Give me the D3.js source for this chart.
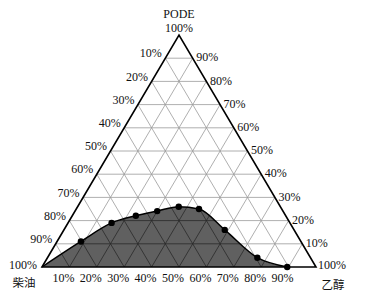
<!DOCTYPE html>
<meta charset="utf-8">
<script src="https://d3js.org/d3.v7.min.js"></script>
<style>
body { margin: 0; background: #fff; }
text { font-family: "Liberation Serif", "Times New Roman", serif; font-size: 12px; fill: #111; }
.cjk { font-family: "Noto Sans CJK SC", sans-serif; font-size: 11.5px; }
</style>
<body></body>
<script>

// ternary data, in percent (diesel = 100 - ethanol - pode)
var ethanol = [0, 8.7, 15.9, 23.2, 30.0, 36.9, 44.8, 58.7, 76.6, 89.5];
var pode    = [0, 11.0, 19.0, 22.1, 24.1, 26.0, 25.0, 16.0, 4.0, 0];
var ticks   = [10, 20, 30, 40, 50, 60, 70, 80, 90];

var width = 367, height = 300;

var svg = d3.select("body").append("svg")
  .attr("width", width)
  .attr("height", height);

// x runs along the base (ethanol + pode/2), y is the pode height
var xScale = d3.scaleLinear().domain([0, 100]).range([42, 316]);
var yScale = d3.scaleLinear().domain([0, 100]).range([267, 35]);

function px(e, p) { return xScale(e + p / 2); }
function py(e, p) { return yScale(p); }

// grid segments for the three families
var grid = [];
ticks.forEach(function(k) {
  grid.push([[0, k], [100 - k, k]]);          // constant PODE
  grid.push([[k, 0], [k, 100 - k]]);          // constant ethanol
  grid.push([[100 - k, 0], [0, 100 - k]]);    // constant diesel
});

function drawGrid(g, color) {
  g.selectAll("line")
    .data(grid)
    .enter().append("line")
    .attr("x1", function(d) { return px(d[0][0], d[0][1]); })
    .attr("y1", function(d) { return py(d[0][0], d[0][1]); })
    .attr("x2", function(d) { return px(d[1][0], d[1][1]); })
    .attr("y2", function(d) { return py(d[1][0], d[1][1]); })
    .style("stroke", color)
    .style("stroke-width", 0.8);
}

drawGrid(svg.append("g"), "#9a9a9a");

// the region under the curve
var pts = ethanol.map(function(e, i) { return [px(e, pode[i]), py(e, pode[i])]; });

var line = d3.line().curve(d3.curveMonotoneX);
var areaPath = line(pts) + "Z";

svg.append("clipPath").attr("id", "regionClip")
  .append("path").attr("d", areaPath);

svg.append("path")
  .attr("d", areaPath)
  .style("fill", "#606060");

drawGrid(svg.append("g").attr("clip-path", "url(#regionClip)"), "#2a2a2a");

svg.append("path")
  .attr("d", line(pts))
  .style("fill", "none")
  .style("stroke", "#000")
  .style("stroke-width", 1.5);

svg.selectAll(".dot")
  .data(pts.slice(1))
  .enter().append("circle")
  .attr("class", "dot")
  .attr("cx", function(d) { return d[0]; })
  .attr("cy", function(d) { return d[1]; })
  .attr("r", 3.2)
  .style("fill", "#000");

// triangle outline
svg.append("path")
  .attr("d", d3.line()([[px(0, 0), py(0, 0)], [px(0, 100), py(0, 100)], [px(100, 0), py(100, 0)]]) + "Z")
  .style("fill", "none")
  .style("stroke", "#000")
  .style("stroke-width", 1.6);

// diesel labels on the left edge
svg.selectAll(".ltick")
  .data(ticks)
  .enter().append("text")
  .attr("class", "ltick")
  .attr("x", function(k) { return px(0, 100 - k) - 3.5; })
  .attr("y", function(k) { return py(0, 100 - k) - 5; })
  .attr("dy", "0.35em")
  .attr("text-anchor", "end")
  .text(function(k) { return k + "%"; });

// PODE labels on the right edge
svg.selectAll(".rtick")
  .data(ticks)
  .enter().append("text")
  .attr("class", "rtick")
  .attr("x", function(k) { return px(100 - k, k) + 3.5; })
  .attr("y", function(k) { return py(100 - k, k) - 1; })
  .attr("dy", "0.35em")
  .attr("text-anchor", "start")
  .text(function(k) { return k + "%"; });

// ethanol labels on the base
svg.selectAll(".btick")
  .data(ticks)
  .enter().append("text")
  .attr("class", "btick")
  .attr("x", function(k) { return px(k, 0) - 6; })
  .attr("y", py(0, 0) + 11)
  .attr("dy", "0.35em")
  .attr("text-anchor", "middle")
  .text(function(k) { return k + "%"; });

// corner labels
svg.append("text").attr("x", px(0, 100)).attr("y", 28).attr("dy", "0.35em")
  .attr("text-anchor", "middle").text("100%");
svg.append("text").attr("x", px(0, 100)).attr("y", 14).attr("dy", "0.35em")
  .attr("text-anchor", "middle").text("PODE");
svg.append("text").attr("x", 37).attr("y", 265).attr("dy", "0.35em")
  .attr("text-anchor", "end").text("100%");
svg.append("text").attr("x", 318).attr("y", 265).attr("dy", "0.35em")
  .attr("text-anchor", "start").text("100%");
svg.append("text").attr("class", "cjk").attr("x", 24).attr("y", 283).attr("dy", "0.35em")
  .attr("text-anchor", "middle").text("柴油");
svg.append("text").attr("class", "cjk").attr("x", 333).attr("y", 285).attr("dy", "0.35em")
  .attr("text-anchor", "middle").text("乙醇");

</script>
